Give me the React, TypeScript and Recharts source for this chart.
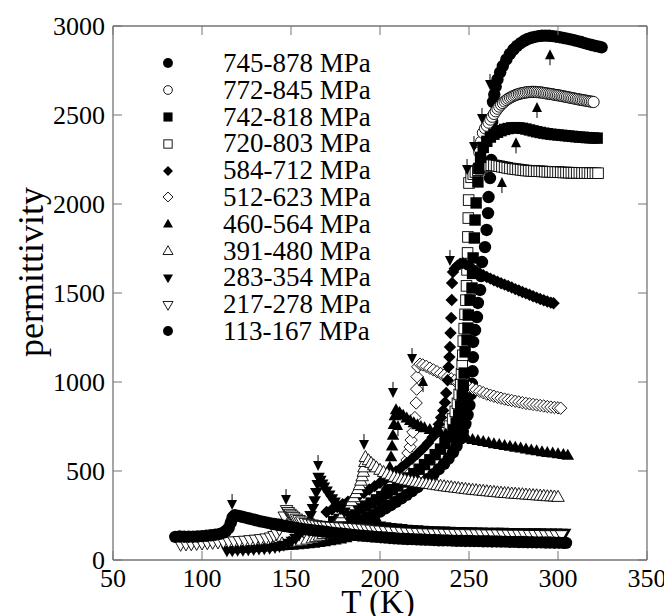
import { ScatterChart, Scatter, XAxis, YAxis, Legend } from "recharts";

const FONT = '"Liberation Serif", "Times New Roman", Times, serif';
const AXIS = "#747474";

const CHART_W = 664;
const CHART_H = 608;
const MARGIN = { top: 18, right: 25, bottom: 0, left: 45 };
const Y_AXIS_W = 60;
const X_AXIS_H = 56;
const PLOT_W = CHART_W - MARGIN.left - Y_AXIS_W - MARGIN.right;
const PLOT_H = CHART_H - MARGIN.top - X_AXIS_H;
const TICK = 9;

const xTicks = [50, 100, 150, 200, 250, 300, 350];
const yTicks = [0, 500, 1000, 1500, 2000, 2500, 3000];

const names = [
  "745-878 MPa", "772-845 MPa", "742-818 MPa", "720-803 MPa", "584-712 MPa", "512-623 MPa",
  "460-564 MPa", "391-480 MPa", "283-354 MPa", "217-278 MPa", "113-167 MPa",
];
const kinds = [
  "circle", "ocircle", "square", "osquare", "diamond", "odiamond",
  "triangle", "otriangle", "dtriangle", "odtriangle", "circle",
];

// [T (K), permittivity]
const s745 = [
  [176, 158], [179, 170], [182, 183], [185, 196], [188, 210], [191, 225], [194, 240], [197, 256],
  [200, 272], [203, 290], [206, 308], [209, 327], [212, 346], [215, 366], [218, 387], [221, 409],
  [224, 432], [227, 456], [230, 482], [233, 510], [236, 540], [238.5, 570], [241, 605], [243, 640],
  [245, 680], [246.5, 720], [248, 765], [249.2, 815], [250.2, 870], [251, 930], [251.6, 990],
  [252, 1060], [252.2, 1140], [252.3, 1225], [253.4, 1292], [254.5, 1365], [255, 1444], [256.2, 1517],
  [256.8, 1595], [257.3, 1674], [259, 1758], [259.9, 1854], [260.7, 1949], [261, 2039], [261.8, 2146],
  [262.5, 2247], [263, 2461], [263.5, 2573], [264.2, 2615], [265, 2660], [266, 2700], [267.5, 2740],
  [269, 2775], [271, 2812], [273, 2843], [275, 2868], [277, 2888], [279, 2904], [281, 2917],
  [283, 2927], [285, 2934], [287, 2939], [289, 2943], [291, 2945], [293, 2946], [295, 2945],
  [297, 2943], [299, 2940], [301, 2937], [303, 2933], [305, 2929], [307, 2925], [309, 2920],
  [311, 2915], [313, 2910], [315, 2904], [317, 2898], [319, 2893], [321, 2888], [323, 2884], [324.5, 2880],
];
const s772 = [
  [255.8, 2290], [256.8, 2350], [257.8, 2400], [259, 2425], [260, 2440], [261, 2457], [262, 2474],
  [263, 2490], [264, 2506], [265, 2521], [266, 2535], [267, 2547], [268, 2558], [269, 2567],
  [270, 2576], [271, 2584], [272, 2591], [273, 2597], [274, 2602], [275, 2607], [276, 2611],
  [277, 2615], [278, 2618], [279, 2621], [280, 2623], [281, 2625], [282, 2627], [283, 2628],
  [284, 2629], [285, 2630], [286, 2630], [287, 2630], [288, 2629], [289, 2628], [290, 2627],
  [291, 2626], [292, 2624], [293, 2622], [294, 2621], [295, 2619], [296, 2618], [297, 2616],
  [298, 2614], [299, 2612], [300, 2611], [301, 2609], [302, 2607], [303, 2605], [304, 2603],
  [305, 2601], [306, 2599], [307, 2597], [308, 2595], [309, 2593], [310, 2591], [311, 2589],
  [312, 2587], [313, 2585], [314, 2583], [315, 2582], [316, 2580], [317, 2578], [318, 2576],
  [319, 2575], [320, 2573],
];
const s742 = [
  [174, 215], [177, 228], [180, 242], [183, 256], [186, 271], [189, 287], [192, 303], [195, 320],
  [198, 338], [201, 356], [204, 375], [207, 395], [210, 416], [213, 438], [216, 461], [219, 485],
  [222, 510], [225, 536], [228, 563], [231, 592], [234, 623], [236.5, 655], [239, 690], [241, 728],
  [242.8, 770], [244.2, 815], [245.3, 865], [246.2, 920], [246.8, 980], [247.3, 1050], [247.8, 1169],
  [248.9, 1236], [249.4, 1303], [249.6, 1376], [250.6, 1461], [251.7, 1528], [252, 1610], [252.3, 1697],
  [253, 1809], [253.4, 1910], [254, 2006], [255, 2124], [255.5, 2200], [256.5, 2262], [258, 2318],
  [260, 2352], [262, 2376], [264, 2392], [266, 2403], [268, 2412], [270, 2419], [272, 2424],
  [274, 2428], [276, 2429], [278, 2428], [280, 2425], [282, 2421], [284, 2416], [286, 2411],
  [288, 2406], [290, 2402], [292, 2398], [294, 2395], [296, 2392], [298, 2390], [300, 2388],
  [302, 2386], [304, 2384], [306, 2382], [308, 2380], [310, 2378], [312, 2376], [314, 2375],
  [316, 2373], [318, 2372], [320, 2371], [322, 2370],
];
const s720 = [
  [237, 715], [239, 752], [240.8, 792], [242.3, 835], [243.5, 880], [244.5, 930], [245.3, 985],
  [245.8, 1045], [246.2, 1100], [246.5, 1150], [246.8, 1230], [247.3, 1300], [247.8, 1380],
  [248.3, 1460], [248.6, 1540], [248.9, 1630], [249.2, 1725], [249.4, 1815], [249.6, 1921],
  [249.8, 2022], [250, 2118], [251.2, 2150], [252.4, 2168], [253.6, 2180], [255, 2190], [256.5, 2198],
  [258, 2205], [259.5, 2210], [261, 2215], [262.5, 2218], [264, 2217], [265.5, 2215], [267, 2212],
  [268.5, 2209], [270, 2206], [271.5, 2203], [273, 2200], [274.5, 2198], [276, 2196], [277.5, 2194],
  [279, 2192], [280.5, 2190], [282, 2188], [283.5, 2187], [285, 2186], [286.5, 2185], [288, 2184],
  [289.5, 2184], [291, 2183], [292.5, 2182], [294, 2181], [295.5, 2181], [297, 2180], [298.5, 2179],
  [300, 2179], [301.5, 2178], [303, 2177], [304.5, 2177], [306, 2176], [307.5, 2176], [309, 2175],
  [310.5, 2175], [312, 2175], [313.5, 2174], [315, 2174], [316.5, 2174], [318, 2173], [319.5, 2173],
  [321, 2173], [322.5, 2173],
];
const s584 = [
  [170, 270], [173, 284], [176, 298], [179, 313], [182, 328], [185, 344], [188, 361], [191, 378],
  [194, 396], [197, 415], [200, 434], [203, 454], [206, 475], [209, 497], [212, 520], [215, 544],
  [218, 569], [221, 596], [224, 625], [227, 657], [229.5, 690], [231.5, 725], [233, 762], [234.3, 800],
  [235.5, 840], [236.5, 885], [237.2, 938], [238, 1010], [238.5, 1084], [239, 1140], [239.3, 1197],
  [239.6, 1275], [240, 1360], [240.3, 1461], [240.5, 1556], [241, 1618], [242, 1638], [243.5, 1654],
  [245, 1664], [246.5, 1668], [248, 1662], [250, 1650], [252, 1637], [254, 1624], [256, 1611],
  [258, 1600], [260, 1590], [262, 1581], [264, 1572], [266, 1563], [268, 1555], [270, 1547],
  [272, 1539], [274, 1531], [276, 1522], [278, 1514], [280, 1506], [282, 1498], [284, 1490],
  [286, 1482], [288, 1474], [290, 1466], [292, 1459], [294, 1452], [296, 1446], [297.5, 1442],
];
const s512 = [
  [210.5, 470], [213, 520], [215.2, 562], [215.7, 601], [216.9, 635], [217.5, 674], [218.5, 719],
  [219.6, 800], [220.3, 882], [220.6, 960], [220.8, 1030], [221.2, 1085], [222.5, 1100], [224, 1096],
  [226, 1088], [228, 1078], [230, 1068], [232, 1058], [234, 1048], [236, 1038], [238, 1028],
  [240, 1018], [242, 1008], [244, 998], [246, 989], [248, 980], [250, 972], [252, 964], [254, 956],
  [256, 948], [258, 940], [260, 932], [262, 926], [264, 920], [266, 914], [268, 909], [270, 904],
  [272, 900], [274, 896], [276, 892], [278, 888], [280, 884], [282, 880], [284, 877], [286, 874],
  [288, 871], [290, 868], [292, 865], [294, 862], [296, 859], [298, 857], [300, 855], [301.5, 853],
];
const s460 = [
  [118, 62], [121, 64], [124, 65], [127, 67], [130, 69], [133, 71], [136, 73], [139, 75], [142, 77],
  [145, 79], [148, 81], [151, 83], [154, 85], [157, 88], [160, 91], [163, 94], [166, 98], [169, 102],
  [172, 107], [175, 112], [178, 118], [181, 125], [184, 133], [187, 145], [190, 160], [192, 176],
  [194, 195], [196, 217], [197.5, 240], [199.5, 290], [201.5, 345], [203, 400], [204.5, 460],
  [205.5, 520], [206.2, 580], [206.8, 640], [207.3, 700], [207.8, 760], [208.3, 810], [209, 843],
  [211, 828], [213, 812], [215, 797], [217, 783], [219, 770], [221, 759], [223, 750], [225, 742],
  [228, 732], [231, 723], [234, 715], [237, 708], [240, 701], [243, 695], [246, 689], [249, 683],
  [252, 677], [255, 671], [258, 665], [261, 659], [264, 653], [267, 648], [270, 643], [273, 638],
  [276, 633], [279, 628], [282, 623], [285, 618], [288, 613], [291, 608], [294, 604], [297, 600],
  [300, 596], [303, 592], [305.5, 588],
];
const s391 = [
  [125, 78], [129, 80], [133, 82], [137, 85], [141, 89], [145, 93], [149, 98], [153, 103], [156, 108],
  [159, 114], [162, 121], [164, 128], [166, 136], [168, 145], [170, 156], [172, 168], [173.5, 183],
  [175, 200], [176.5, 220], [178, 240], [179.5, 262], [181, 285], [182.5, 307], [184, 330],
  [185.3, 352], [186.5, 375], [187.6, 398], [188.5, 420], [189.3, 445], [190, 470], [190.6, 495],
  [191, 520], [191.5, 550], [191.8, 578], [193.5, 560], [195, 545], [196.5, 532], [198, 520],
  [200, 506], [202, 494], [204, 484], [206, 475], [208, 467], [210, 461], [212, 455], [214, 450],
  [216, 446], [218, 442], [220, 439], [222, 435], [224, 432], [226, 429], [228, 426], [230, 423],
  [232, 420], [234, 417], [236, 414], [238, 411], [240, 409], [242, 406], [244, 404], [246, 401],
  [248, 399], [250, 396], [252, 394], [254, 392], [256, 390], [258, 388], [260, 386], [262, 384],
  [264, 382], [266, 380], [268, 378], [270, 376], [272, 375], [274, 373], [276, 372], [278, 370],
  [280, 369], [282, 367], [284, 366], [286, 364], [288, 363], [290, 361], [292, 360], [294, 358],
  [296, 357], [298, 356], [300, 354],
];
const s283 = [
  [114, 52], [117, 53], [120, 55], [123, 56], [126, 58], [129, 60], [132, 62], [135, 64], [138, 67],
  [141, 71], [143.5, 76], [146, 84], [148.5, 94], [150.5, 106], [152.5, 122], [154.5, 140],
  [156.3, 160], [158, 185], [159.5, 212], [161, 250], [162.3, 290], [163.3, 333], [164.2, 380],
  [165, 425], [165.5, 466], [166.5, 448], [167.5, 428], [168.5, 410], [170, 388], [171.5, 366],
  [173, 345], [174.5, 326], [176, 308], [178, 288], [180, 270], [182.5, 252], [185, 238], [188, 225],
  [191, 214], [194, 205], [197, 198], [200, 192], [203, 187], [206, 183], [209, 180], [212, 177],
  [215, 174], [218, 172], [221, 170], [224, 168], [227, 166], [230, 165], [233, 164], [236, 163],
  [239, 162], [242, 161], [245, 160], [248, 159], [251, 159], [254, 158], [257, 158], [260, 157],
  [263, 157], [266, 156], [269, 156], [272, 155], [275, 155], [278, 154], [281, 154], [284, 154],
  [287, 153], [290, 153], [293, 152], [296, 152], [299, 152], [302, 151], [304, 151],
];
const s217 = [
  [88, 86], [91, 88], [94, 89], [97, 91], [100, 93], [103, 95], [106, 97], [109, 99], [112, 101],
  [115, 103], [118, 105], [121, 107], [124, 109], [127, 112], [130, 115], [133, 118], [136, 122],
  [138.5, 127], [140.5, 135], [142, 148], [143.5, 172], [145, 205], [146.2, 245], [147.5, 281],
  [148.5, 270], [149.5, 260], [150.5, 251], [151.5, 243], [153, 233], [154.5, 225], [156, 217],
  [158, 209], [160, 204], [162, 200], [164, 196], [166, 193], [168, 191], [170, 189], [172.5, 187],
  [175, 186], [177.5, 184], [180, 183], [182.5, 181], [185, 180], [187.5, 178], [190, 176],
  [192.5, 173], [195, 171], [197.5, 168], [200, 166], [203, 163], [206, 161], [209, 159], [212, 157],
  [215, 155], [218, 154], [221, 152], [224, 151], [227, 150], [230, 149], [233, 149], [236, 148],
  [239, 147], [242, 147], [245, 146], [248, 146], [251, 145], [254, 145], [257, 145], [260, 144],
  [263, 144], [266, 144], [269, 143], [272, 143], [275, 142], [278, 142], [281, 142], [284, 141],
  [287, 141], [290, 141], [293, 140], [296, 140], [299, 140], [302, 140],
];
const s113 = [
  [85, 130], [87.5, 132], [90, 131], [92.5, 131], [95, 131], [97.5, 132], [100, 134], [102.5, 136],
  [105, 139], [107.5, 142], [110, 147], [112, 154], [113.5, 163], [115, 180], [116.2, 210],
  [117.2, 240], [118.5, 252], [120.5, 248], [122.5, 243], [124.5, 238], [126.5, 233], [128.5, 228],
  [130.5, 223], [132.5, 218], [134.5, 214], [136.5, 210], [138.5, 206], [140.5, 202], [142.5, 198],
  [144.5, 195], [146.5, 191], [148.5, 188], [150.5, 184], [153, 180], [155.5, 176], [158, 172],
  [160.5, 169], [163, 166], [165.5, 163], [168, 160], [170.5, 157], [173, 154], [175.5, 151],
  [178, 149], [180.5, 146], [183, 143], [185.5, 141], [188, 138], [190.5, 136], [193, 134],
  [195.5, 132], [198, 130], [200.5, 128], [203, 126], [205.5, 124], [208, 122], [210.5, 120],
  [213, 119], [215.5, 118], [218, 117], [220.5, 116], [223, 115], [225.5, 114], [228, 113],
  [230.5, 112], [233, 111], [235.5, 110], [238, 110], [240.5, 109], [243, 108], [245.5, 108],
  [248, 107], [250.5, 107], [253, 106], [255.5, 106], [258, 105], [260.5, 105], [263, 104],
  [265.5, 104], [268, 103], [270.5, 103], [273, 102], [275.5, 102], [278, 101], [280.5, 101],
  [283, 100], [285.5, 100], [288, 99], [290.5, 99], [293, 98], [295.5, 98], [298, 97], [300.5, 97],
  [303, 96], [304.5, 96],
];

// peak markers
const downArrows = [
  [261.8, 2680], [257.3, 2489], [252.8, 2331], [248.9, 2202], [239.3, 1691], [218, 1140],
  [207.3, 950], [191, 657], [165.2, 539], [147.2, 348], [116.9, 320],
];
const upArrows = [
  [295.5, 2830], [288.2, 2534], [276.4, 2335], [268.5, 2112], [224.2, 994], [210.1, 747],
];

const allData = [s745, s772, s742, s720, s584, s512, s460, s391, s283, s217, s113];
const toPts = (arr: number[][]) => arr.map(([t, p]) => ({ t, p }));

const series = names.map((name, i) => ({ name, kind: kinds[i], data: toPts(allData[i]) }));
const drawOrder = [0, 1, 5, 3, 2, 4, 6, 7, 8, 9, 10];

function Marker({ kind, cx, cy, s = 1 }: any) {
  const r = 6.2 * s;
  const open = { fill: "#fff", stroke: "#000", strokeWidth: 0.9 };
  const w = 12.5 * s;
  const h = 11 * s;
  const q = 5.7 * s;
  switch (kind) {
    case "circle":
      return <circle cx={cx} cy={cy} r={r} fill="#000" />;
    case "ocircle":
      return <circle cx={cx} cy={cy} r={r - 0.6} {...open} />;
    case "square":
      return <rect x={cx - q} y={cy - q} width={2 * q} height={2 * q} fill="#000" />;
    case "osquare":
      return <rect x={cx - q + 0.4} y={cy - q + 0.4} width={2 * q - 0.8} height={2 * q - 0.8} {...open} />;
    case "diamond":
      return <polygon points={`${cx},${cy - r} ${cx + r},${cy} ${cx},${cy + r} ${cx - r},${cy}`} fill="#000" />;
    case "odiamond":
      return <polygon points={`${cx},${cy - r} ${cx + r},${cy} ${cx},${cy + r} ${cx - r},${cy}`} {...open} />;
    case "triangle":
      return <polygon points={`${cx},${cy - h * 0.6} ${cx + w / 2},${cy + h * 0.4} ${cx - w / 2},${cy + h * 0.4}`} fill="#000" />;
    case "otriangle":
      return <polygon points={`${cx},${cy - h * 0.6} ${cx + w / 2},${cy + h * 0.4} ${cx - w / 2},${cy + h * 0.4}`} {...open} />;
    case "dtriangle":
      return <polygon points={`${cx},${cy + h * 0.6} ${cx + w / 2},${cy - h * 0.4} ${cx - w / 2},${cy - h * 0.4}`} fill="#000" />;
    case "odtriangle":
      return <polygon points={`${cx},${cy + h * 0.6} ${cx + w / 2},${cy - h * 0.4} ${cx - w / 2},${cy - h * 0.4}`} {...open} />;
    default:
      return null;
  }
}

const DownArrow = ({ cx, cy }: any) => (
  <g>
    <line x1={cx} y1={cy - 9} x2={cx} y2={cy - 2} stroke="#000" strokeWidth={1} />
    <polygon points={`${cx - 5},${cy - 3} ${cx + 5},${cy - 3} ${cx},${cy + 7}`} fill="#000" />
  </g>
);
const UpArrow = ({ cx, cy }: any) => (
  <g>
    <polygon points={`${cx - 5},${cy + 3} ${cx + 5},${cy + 3} ${cx},${cy - 7}`} fill="#000" />
    <line x1={cx} y1={cy + 2} x2={cx} y2={cy + 9} stroke="#000" strokeWidth={1} />
  </g>
);

// bottom tick: label, inward tick at bottom and top, right frame line at the last tick
const BottomTick = (p: any) => {
  const top = p.y - PLOT_H;
  const isLast = p.payload.value === xTicks[xTicks.length - 1];
  return (
    <g>
      <line x1={p.x} x2={p.x} y1={p.y} y2={p.y - TICK} stroke={AXIS} strokeWidth={1} />
      <line x1={p.x} x2={p.x} y1={top} y2={top + TICK} stroke={AXIS} strokeWidth={1} />
      {isLast && <line x1={p.x} x2={p.x} y1={top} y2={p.y} stroke={AXIS} strokeWidth={1.3} />}
      <text x={p.x} y={p.y + 27} textAnchor="middle" fontFamily={FONT} fontSize={26} fill="#000">
        {p.payload.value}
      </text>
    </g>
  );
};
// left tick: label, inward tick at left and right, top frame line at the last tick
const LeftTick = (p: any) => {
  const right = p.x + PLOT_W;
  const isLast = p.payload.value === yTicks[yTicks.length - 1];
  return (
    <g>
      <line x1={p.x} x2={p.x + TICK} y1={p.y} y2={p.y} stroke={AXIS} strokeWidth={1} />
      <line x1={right - TICK} x2={right} y1={p.y} y2={p.y} stroke={AXIS} strokeWidth={1} />
      {isLast && <line x1={p.x} x2={right} y1={p.y} y2={p.y} stroke={AXIS} strokeWidth={1.3} />}
      <text x={p.x - 8} y={p.y} dy="0.35em" textAnchor="end" fontFamily={FONT} fontSize={26} fill="#000">
        {p.payload.value}
      </text>
    </g>
  );
};

const xLabel = () => (
  <text x={370} y={605} textAnchor="middle" fontFamily={FONT} fontSize={33} fill="#000">
    T (K)
  </text>
);
const yLabel = () => (
  <text transform="translate(35,264) rotate(-90)" textAnchor="middle" fontFamily={FONT} fontSize={36} fill="#000">
    permittivity
  </text>
);

const LegendBox = () => (
  <div style={{ fontFamily: FONT, fontSize: 27, color: "#000" }}>
    {series.map((s) => (
      <div key={s.name} style={{ display: "flex", alignItems: "center", height: 26.8, lineHeight: "26.8px" }}>
        <svg width={20} height={20} style={{ flex: "none" }}>
          <Marker kind={s.kind} cx={10} cy={10} s={0.8} />
        </svg>
        <span style={{ marginLeft: 45, whiteSpace: "nowrap" }}>{s.name}</span>
      </div>
    ))}
  </div>
);

export default function App() {
  return (
    <div style={{ width: CHART_W, height: CHART_H }}>
      <ScatterChart width={CHART_W} height={CHART_H} margin={MARGIN}>
        <XAxis
          dataKey="t"
          type="number"
          domain={[50, 350]}
          ticks={xTicks}
          interval={0}
          height={X_AXIS_H}
          tickSize={0}
          tickMargin={0}
          tickLine={false}
          axisLine={{ stroke: AXIS, strokeWidth: 1.3 }}
          tick={<BottomTick />}
          label={xLabel}
        />
        <YAxis
          dataKey="p"
          type="number"
          domain={[0, 3000]}
          ticks={yTicks}
          interval={0}
          width={Y_AXIS_W}
          tickSize={0}
          tickMargin={0}
          tickLine={false}
          axisLine={{ stroke: AXIS, strokeWidth: 1.3 }}
          tick={<LeftTick />}
          label={yLabel}
        />
        <Legend
          layout="vertical"
          align="center"
          verticalAlign="middle"
          content={LegendBox}
          wrapperStyle={{ left: 150, top: 42, width: 280 }}
        />
        {drawOrder.map((i) => (
          <Scatter
            key={series[i].name}
            name={series[i].name}
            data={series[i].data}
            isAnimationActive={false}
            shape={(props: any) => <Marker kind={series[i].kind} cx={props.cx} cy={props.cy} />}
          />
        ))}
        <Scatter
          name="Tc down"
          legendType="none"
          data={toPts(downArrows)}
          isAnimationActive={false}
          shape={(props: any) => <DownArrow cx={props.cx} cy={props.cy} />}
        />
        <Scatter
          name="Tc up"
          legendType="none"
          data={toPts(upArrows)}
          isAnimationActive={false}
          shape={(props: any) => <UpArrow cx={props.cx} cy={props.cy} />}
        />
      </ScatterChart>
    </div>
  );
}
